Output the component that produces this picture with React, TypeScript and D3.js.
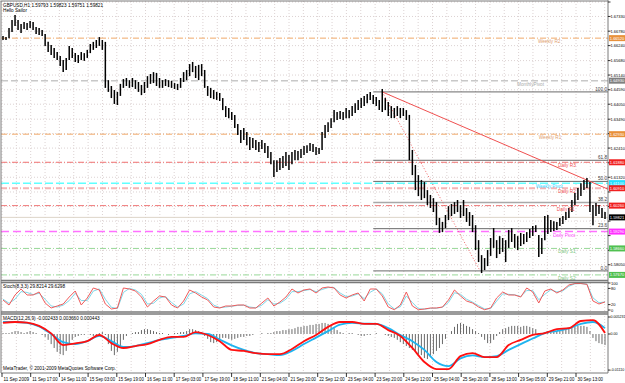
import React from 'react';
import * as d3 from 'd3';

const HIGH = [
  1.6660,1.6656,1.6690,1.6720,1.6738,1.6720,1.6705,1.6712,1.6709,1.6716,
  1.6712,1.6694,1.6690,1.6682,1.6667,1.6638,1.6626,1.6615,1.6600,1.6585,
  1.6570,1.6578,1.6623,1.6615,1.6596,1.6589,1.6600,1.6596,1.6608,1.6630,
  1.6638,1.6645,1.6656,1.6645,1.6638,1.6495,1.6473,1.6458,1.6451,1.6481,
  1.6499,1.6503,1.6495,1.6503,1.6495,1.6488,1.6477,1.6488,1.6510,1.6518,
  1.6525,1.6522,1.6503,1.6495,1.6499,1.6495,1.6492,1.6484,1.6481,1.6503,
  1.6525,1.6533,1.6555,1.6563,1.6548,1.6552,1.6555,1.6533,1.6473,1.6466,
  1.6458,1.6451,1.6447,1.6428,1.6398,1.6391,1.6376,1.6365,1.6331,1.6309,
  1.6316,1.6301,1.6282,1.6279,1.6271,1.6264,1.6271,1.6260,1.6249,1.6226,
  1.6196,1.6196,1.6204,1.6211,1.6226,1.6215,1.6226,1.6234,1.6230,1.6238,
  1.6249,1.6252,1.6260,1.6256,1.6245,1.6241,1.6301,1.6327,1.6338,1.6353,
  1.6383,1.6376,1.6380,1.6376,1.6391,1.6383,1.6398,1.6409,1.6421,1.6428,
  1.6436,1.6443,1.6451,1.6439,1.6432,1.6421,1.6462,1.6428,1.6413,1.6398,
  1.6391,1.6398,1.6391,1.6391,1.6383,1.6365,1.6234,1.6178,1.6140,1.6122,
  1.6114,1.6084,1.6066,1.6054,1.6039,1.5980,1.5965,1.5991,1.6024,1.6032,
  1.6039,1.6047,1.6028,1.6047,1.6017,1.6002,1.5991,1.5953,1.5897,1.5841,
  1.5830,1.5860,1.5905,1.5942,1.5897,1.5912,1.5905,1.5897,1.5935,1.5942,
  1.5920,1.5912,1.5924,1.5920,1.5927,1.5939,1.5950,1.5953,1.5916,1.5905,
  1.5987,1.5991,1.5972,1.5968,1.5965,1.5980,1.5987,1.6002,1.6017,1.6047,
  1.6073,1.6092,1.6110,1.6122,1.6129,1.6114,1.6028,1.6036,1.6028,1.6017,
  1.6002,
];

const LOW = [
  1.6645,1.6645,1.6652,1.6675,1.6697,1.6682,1.6671,1.6686,1.6682,1.6690,
  1.6682,1.6667,1.6664,1.6660,1.6623,1.6600,1.6589,1.6578,1.6570,1.6548,
  1.6525,1.6533,1.6570,1.6578,1.6563,1.6559,1.6570,1.6567,1.6578,1.6596,
  1.6608,1.6615,1.6623,1.6608,1.6466,1.6451,1.6428,1.6406,1.6402,1.6436,
  1.6466,1.6473,1.6466,1.6469,1.6462,1.6451,1.6439,1.6447,1.6466,1.6481,
  1.6484,1.6473,1.6466,1.6466,1.6473,1.6469,1.6466,1.6462,1.6458,1.6466,
  1.6488,1.6495,1.6510,1.6525,1.6503,1.6495,1.6510,1.6466,1.6436,1.6428,
  1.6424,1.6421,1.6417,1.6383,1.6357,1.6353,1.6346,1.6316,1.6290,1.6260,
  1.6271,1.6252,1.6234,1.6241,1.6234,1.6226,1.6238,1.6223,1.6204,1.6181,
  1.6133,1.6152,1.6159,1.6167,1.6174,1.6159,1.6181,1.6196,1.6196,1.6204,
  1.6215,1.6223,1.6230,1.6226,1.6215,1.6219,1.6234,1.6279,1.6301,1.6316,
  1.6338,1.6346,1.6350,1.6346,1.6353,1.6353,1.6361,1.6372,1.6383,1.6391,
  1.6398,1.6409,1.6421,1.6406,1.6398,1.6383,1.6376,1.6383,1.6361,1.6353,
  1.6353,1.6361,1.6353,1.6361,1.6346,1.6196,1.6140,1.6084,1.6062,1.6047,
  1.6054,1.6028,1.6017,1.6002,1.5953,1.5924,1.5927,1.5942,1.5972,1.5987,
  1.5995,1.6002,1.5980,1.5987,1.5965,1.5950,1.5927,1.5860,1.5815,1.5774,
  1.5785,1.5800,1.5838,1.5868,1.5830,1.5845,1.5853,1.5815,1.5868,1.5890,
  1.5868,1.5860,1.5875,1.5882,1.5890,1.5905,1.5912,1.5927,1.5834,1.5845,
  1.5897,1.5920,1.5927,1.5931,1.5935,1.5950,1.5957,1.5972,1.5980,1.6002,
  1.6028,1.6047,1.6062,1.6084,1.6092,1.6002,1.5953,1.5987,1.5995,1.5980,
  1.5976,
];

// Stochastic, one value every 2 bars
const STOCH_MAIN = [
  37,18.5,55.6,77.8,55.6,55.6,66.7,25.9,7.4,14.8,
  22.2,48.1,70.4,18.5,44.4,81.5,74.1,22.2,3.7,7.4,
  81.5,77.8,70.4,48.1,11.1,33.3,51.9,48.1,18.5,7.4,
  33.3,74.1,63,48.1,37,11.1,7.4,14.8,14.8,18.5,
  18.5,7.4,7.4,25.9,44.4,14.8,29.6,48.1,77.8,63,
  74.1,77.8,63,81.5,85.2,81.5,55.6,44.4,55.6,63,
  33.3,77.8,77.8,51.9,11.1,1,18.5,66.7,14.8,1,
  3.7,7.4,7.4,11.1,37,74.1,51.9,33.3,25.9,11.1,
  1,7.4,44.4,66.7,55.6,55.6,48.1,81.5,66.7,25.9,
  70.4,77.8,63,74.1,92.6,98,98,95,33.3,22.2,
  29.8,
];
const STOCH_SIGNAL = [
  40,25,40,68,65,57,62,40,15,11,
  18,35,62,35,35,70,78,40,10,5,
  65,80,74,58,22,25,45,50,28,11,
  22,60,68,55,42,18,9,11,14,17,
  18,11,8,18,38,22,25,40,68,68,
  72,76,68,76,83,83,63,50,52,60,
  42,66,78,60,22,4,12,52,28,5,
  3,6,7,10,28,64,58,40,29,16,
  4,5,33,60,58,56,50,72,72,38,
  58,75,67,71,88,97,98,96,45,27,
  29.6,
];

// MACD lines, one value every 4 bars
const MACD_MAIN = [
  0.0034,0.0037,0.0035,0.0025,0.0002,-0.0034,-0.0029,-0.0022,-0.0003,-0.0028,
  -0.0043,-0.0037,-0.0031,-0.0018,-0.0009,-0.0009,0.0006,-0.0003,-0.0022,-0.0049,
  -0.0052,-0.0059,-0.0062,-0.0062,-0.0046,-0.0022,-0.0003,0.0022,0.0037,0.0037,
  0.0031,0.0031,0.0012,-0.0006,-0.0043,-0.0086,-0.0108,-0.0108,-0.0068,-0.0059,
  -0.0071,-0.0071,-0.0034,-0.0018,-0.0003,0.0003,0.0015,0.0018,0.0040,0.0043,
  0.0003,
];
const MACD_SIGNAL = [
  0.0037,0.0037,0.0034,0.0023,0,-0.0025,-0.0031,-0.0022,-0.0006,-0.0022,
  -0.0040,-0.0037,-0.0028,-0.0018,-0.0012,-0.0006,0.0002,0,-0.0017,-0.0035,
  -0.0049,-0.0059,-0.0062,-0.0065,-0.0052,-0.0031,-0.0011,0.0009,0.0029,0.0034,
  0.0032,0.0031,0.0018,-0.0003,-0.0022,-0.0049,-0.0086,-0.0099,-0.0075,-0.0066,
  -0.0071,-0.0068,-0.0049,-0.0031,-0.0014,0.0003,0.0009,0.0017,0.0031,0.0037,
  0.0018,
];
// histogram, one value per bar
const HIST = [
  0.0003,0.0003,0.0003,
  0.0006,0.0009,0.0009,0.0006,
  0.0003,0.0006,0.0009,0.0006,0.0003,
  0,-0.0003,
  -0.0009,-0.0018,-0.0031,-0.0043,-0.0055,-0.0062,-0.0065,-0.0052,-0.0031,
  -0.0018,-0.0009,-0.0006,-0.0003,-0.0003,0,-0.0003,-0.0006,-0.0003,
  0.0003,0.0006,-0.0003,
  -0.0031,-0.0052,-0.0065,-0.0055,-0.0037,-0.0018,
  -0.0006,0,0.0003,0.0006,
  0.0006,0.0012,0.0015,0.0015,0.0012,0.0009,0.0006,0.0003,
  0.0003,0,-0.0003,0,0.0003,0.0003,0.0006,0.0006,
  0.0009,0.0015,0.0015,0.0012,0.0009,0.0006,
  -0.0006,-0.0015,-0.0025,-0.0028,-0.0025,-0.0018,-0.0012,
  -0.0012,-0.0015,-0.0018,-0.0015,-0.0012,-0.0009,-0.0009,-0.0006,-0.0006,
  -0.0003,0,0,0.0003,0,0.0003,0.0003,
  0.0006,0.0009,0.0009,0.0012,0.0012,0.0015,0.0015,0.0018,0.0022,0.0022,0.0025,0.0025,
  0.0028,0.0028,0.0031,0.0031,0.0034,0.0034,0.0031,0.0025,0.0018,0.0012,0.0006,0.0003,
  0,0.0003,0.0003,0,-0.0003,-0.0006,
  -0.0006,-0.0003,-0.0003,0,0.0003,0,
  0,-0.0003,-0.0006,-0.0009,-0.0012,
  -0.0018,-0.0025,-0.0031,-0.0037,-0.0043,-0.0049,-0.0055,-0.0062,-0.0065,
  -0.0074,-0.0077,-0.0071,-0.0062,-0.0052,-0.0043,-0.0031,
  -0.0015,0,0.0009,
  0.0022,0.0031,0.0034,0.0031,0.0025,0.0022,
  0.0015,0.0009,0.0003,
  -0.0009,-0.0018,-0.0028,-0.0028,-0.0018,-0.0006,
  0.0006,0.0015,0.0018,0.0022,0.0025,0.0025,0.0025,0.0022,0.0025,0.0025,0.0022,0.0018,0.0015,
  0.0003,0,0.0006,0.0009,0.0009,0.0009,
  0.0009,0.0012,0.0015,0.0018,0.0018,0.0022,0.0022,0.0025,0.0025,0.0025,0.0022,0.0009,
  -0.0012,-0.0022,-0.0028,-0.0031,-0.0034,
];

const TIME_LABELS = [
  '11 Sep 2009','11 Sep 17:00','14 Sep 11:00','15 Sep 03:00','15 Sep 19:00','16 Sep 11:00',
  '17 Sep 03:00','17 Sep 19:00','18 Sep 11:00','21 Sep 04:00','21 Sep 20:00','22 Sep 12:00',
  '23 Sep 04:00','23 Sep 20:00','24 Sep 12:00','25 Sep 04:00','25 Sep 20:00','28 Sep 13:00',
  '29 Sep 05:00','29 Sep 21:00','30 Sep 13:00',
];

const PRICE_TICKS = [1.6787,1.6733,1.6678,1.6624,1.6568,1.6514,1.6459,1.6405,1.6349,1.6295,
  1.6241,1.6186,1.6132,1.6077,1.6023,1.5968,1.5914,1.5859,1.5805];
const STOCH_TICKS = [100, 80, 20, 0];
const MACD_TICKS = [0.005231, 0, -0.0111];
const MACD_TICK_LABELS = ['0.005231', '0.00', '-0.01110'];

const LEVEL_NAMES = ['Weekly R2','MonthlyPivot','Weekly R1','Daily R3','Weekly Pivot','Daily R2','Daily R1','Daily Pivot','Daily S1','Daily S2'];
const LEVEL_VALUES = [1.6652,1.6493,1.6293,1.6188,1.6110,1.6091,1.6026,1.5929,1.5866,1.5767];
const LEVEL_LABEL_BAR = [177.7,170.8,178,184.4,177,184.4,184,182.7,184.4,184.4];
const LEVEL_STYLE = [
  { c: '#f0a868', t: '#e0a070', w: 1, d: '6,2,1,2', box: '#e8903a' },
  { c: '#c8c8c8', t: '#a8a8a8', w: 1.5, d: '7,3', box: '#808080' },
  { c: '#f0a868', t: '#e0a070', w: 1, d: '6,2,1,2', box: '#e8903a' },
  { c: '#f07070', t: '#f05050', w: 1, d: '6,2,1,2', box: '#f02020' },
  { c: '#60ffff', t: '#40d8ff', w: 1.5, d: '8,3', box: '#20e0ff' },
  { c: '#f4b4b4', t: '#f05050', w: 2, d: '6,2,1,2', box: '#f02020' },
  { c: '#f07878', t: '#f05050', w: 1, d: '6,2,1,2', box: '#f02020' },
  { c: '#ff70ff', t: '#ff50ff', w: 1.5, d: '8,4', box: '#ff30ff' },
  { c: '#98d898', t: '#80c880', w: 1, d: '6,2,1,2', box: '#50c050' },
  { c: '#98d898', t: '#80c880', w: 1, d: '6,2,1,2', box: '#50c050' },
];

const CURRENT_PRICE = 1.59821;
const FIB_HIGH = 1.6451;
const FIB_LOW = 1.5782;
const FIB_HIGH_BAR = 126;
const FIB_LOW_BAR = 158.5;
const FIB_START_BAR = 123;
const FIB_LEVELS = [100, 61.8, 50, 38.2, 23.6, 0];
const TREND_END = { bar: 201.7, price: 1.6084 };

const FONT = 'Liberation Sans, Arial, sans-serif';
const FS = 4.7;
const FS_AXIS = 4.0;
const FS_SMALL = 3.6;

export default function App() {
  const nBars = HIGH.length;
  const xb = d3.scaleLinear().domain([0, 200]).range([3, 605]);
  const xt = d3.scaleLinear().domain([0, 21]).range([2, 604.7]);
  const yp = d3.scaleLinear().domain([1.5748, 1.67945]).range([280, 0]);
  const ys = d3.scaleLinear().domain([0, 100]).range([310, 283]);
  const ym = d3.scaleLinear().domain([-0.012, 0.00585]).range([373, 315]);
  const RIGHT = 608;

  const stochLine = (arr: number[]) =>
    d3.line<number>().x((_, i) => xb(i * 2)).y((v) => ys(v)).curve(d3.curveLinear)(arr) || '';
  const macdLine = (arr: number[]) =>
    d3.line<number>().x((_, i) => xb(i * 4)).y((v) => ym(v)).curve(d3.curveMonotoneX)(arr) || '';

  const gridX = d3.range(0, 43).map((j) => xt(j / 2));
  const fibY = (lvl: number) => yp(FIB_LOW + (FIB_HIGH - FIB_LOW) * lvl / 100);

  const boxYs = [...LEVEL_VALUES, CURRENT_PRICE].map((v) => yp(v));
  const visibleTicks = PRICE_TICKS.filter((p) => boxYs.every((by) => Math.abs(by - yp(p)) > 5.5) && yp(p) > 4);

  return (
    <svg width={625} height={383} style={{ position: 'absolute', left: 0, top: 0, display: 'block', background: '#ffffff' }}
      fontFamily={FONT}>
      <rect x={0} y={0} width={625} height={383} fill="#ffffff" />
      <defs>
        <clipPath id="mainclip"><rect x={1} y={1} width={RIGHT - 1} height={279} /></clipPath>
        <clipPath id="stclip"><rect x={1} y={282} width={RIGHT - 1} height={30} /></clipPath>
        <clipPath id="mclip"><rect x={1} y={314} width={RIGHT - 1} height={59} /></clipPath>
      </defs>

      {/* grid */}
      <g stroke="#dcd2d2" strokeWidth={1} strokeDasharray="1,2">
        {gridX.map((gx, i) => (
          <line key={'gx' + i} x1={gx} x2={gx} y1={1} y2={373} />
        ))}
        {PRICE_TICKS.map((p, i) => (
          <line key={'gy' + i} x1={1} x2={RIGHT} y1={yp(p)} y2={yp(p)} />
        ))}
      </g>

      {/* pivot levels */}
      <g clipPath="url(#mainclip)">
        {LEVEL_VALUES.map((v, i) => (
          <line key={'lv' + i} x1={1} x2={RIGHT} y1={yp(v)} y2={yp(v)} stroke={LEVEL_STYLE[i].c}
            strokeWidth={LEVEL_STYLE[i].w} strokeDasharray={LEVEL_STYLE[i].d} />
        ))}
        <line x1={1} x2={RIGHT} y1={yp(CURRENT_PRICE)} y2={yp(CURRENT_PRICE)} stroke="#ddd5c8" strokeWidth={1} />
        {/* fibo */}
        {FIB_LEVELS.map((l, i) => (
          <line key={'fb' + i} x1={xb(FIB_START_BAR)} x2={RIGHT} y1={fibY(l)} y2={fibY(l)}
            stroke={l === 38.2 ? '#a8a8a8' : '#6a6a6a'} strokeWidth={l === 38.2 ? 1.6 : 1} />
        ))}
        <line x1={xb(FIB_HIGH_BAR)} y1={yp(FIB_HIGH)} x2={xb(FIB_LOW_BAR)} y2={yp(FIB_LOW)}
          stroke="#f06060" strokeWidth={1} strokeDasharray="1,2" />
        <line x1={xb(FIB_HIGH_BAR)} y1={yp(FIB_HIGH)} x2={xb(TREND_END.bar)} y2={yp(TREND_END.price)}
          stroke="#f05050" strokeWidth={1} />
        {/* bars */}
        <g stroke="#000000" strokeWidth={1.5}>
          {d3.range(nBars).map((i) => (
            <line key={'b' + i} x1={xb(i)} x2={xb(i)} y1={yp(HIGH[i])} y2={yp(LOW[i])} />
          ))}
        </g>
        {/* level texts */}
        {LEVEL_NAMES.map((n, i) => (
          <text key={'lt' + i} x={xb(LEVEL_LABEL_BAR[i])} y={yp(LEVEL_VALUES[i]) + 5} fontSize={FS}
            fill={LEVEL_STYLE[i].t}>{n}</text>
        ))}
        {FIB_LEVELS.map((l, i) => (
          <text key={'ft' + i} x={RIGHT - 1} y={fibY(l) - 1.2} fontSize={FS} fill="#404040" textAnchor="end">
            {l.toFixed(1)}
          </text>
        ))}
      </g>

      {/* stochastic */}
      <g clipPath="url(#stclip)" fill="none">
        <path d={stochLine(STOCH_SIGNAL)} stroke="#7fd8e8" strokeWidth={1} />
        <path d={stochLine(STOCH_MAIN)} stroke="#f05a5a" strokeWidth={1} />
      </g>

      {/* MACD */}
      <g clipPath="url(#mclip)">
        <g stroke="#6a6a6a" strokeWidth={1}>
          {HIST.map((v, i) => (
            <line key={'h' + i} x1={xb(i)} x2={xb(i)} y1={ym(0)} y2={ym(v)} />
          ))}
        </g>
        <path d={macdLine(MACD_SIGNAL)} stroke="#1eb4f0" strokeWidth={1.8} fill="none" />
        <path d={macdLine(MACD_MAIN)} stroke="#ff1010" strokeWidth={1.8} fill="none" />
      </g>

      {/* frames */}
      <g stroke="#7a7a7a" strokeWidth={1} fill="none">
        <line x1={0.5} x2={RIGHT} y1={1} y2={1} />
        <line x1={1} x2={1} y1={1} y2={373} />
        <line x1={RIGHT} x2={RIGHT} y1={0} y2={373} />
        <line x1={1} x2={RIGHT} y1={280.5} y2={280.5} strokeWidth={1.3} />
        <line x1={1} x2={RIGHT} y1={282.5} y2={282.5} strokeWidth={1.3} />
        <line x1={1} x2={RIGHT} y1={312} y2={312} strokeWidth={1.3} />
        <line x1={1} x2={RIGHT} y1={314} y2={314} strokeWidth={1.3} />
        <line x1={1} x2={RIGHT} y1={373} y2={373} />
      </g>

      {/* header texts */}
      <text x={3} y={7} fontSize={FS} fill="#000">GBPUSD,H1  1.59793 1.59823 1.59751 1.59821</text>
      <text x={3} y={12} fontSize={FS} fill="#000">Hello Sailor</text>
      <text x={3} y={288} fontSize={FS} fill="#000">Stoch(8,3,3) 29.8214 29.6298</text>
      <text x={3} y={320} fontSize={FS} fill="#000">MACD(12,26,9) -0.002433 0.003660 0.000443</text>
      <text x={3} y={370} fontSize={FS} fill="#000">MetaTrader, © 2001-2009 MetaQuotes Software Corp.</text>

      {/* right axis */}
      <g fill="#000">
        {PRICE_TICKS.map((p, i) => (
          <line key={'ptl' + i} x1={RIGHT} x2={RIGHT + 2.5} y1={yp(p)} y2={yp(p)} stroke="#000" strokeWidth={0.8} />
        ))}
        {visibleTicks.map((p, i) => (
          <text key={'pt' + i} x={RIGHT + 2.5} y={yp(p) + 1.5} fontSize={FS_AXIS}>{p.toFixed(5)}</text>
        ))}
        {STOCH_TICKS.map((s, i) => (
          <g key={'st' + i}>
            <line x1={RIGHT} x2={RIGHT + 2.5} y1={ys(s)} y2={ys(s)} stroke="#000" strokeWidth={0.8} />
            <text x={RIGHT + 3} y={ys(s) + 1.5} fontSize={FS_AXIS}>{String(s)}</text>
          </g>
        ))}
        {MACD_TICKS.map((m, i) => (
          <g key={'mt' + i}>
            <line x1={RIGHT} x2={RIGHT + 2.5} y1={ym(m)} y2={ym(m)} stroke="#000" strokeWidth={0.8} />
            <text x={RIGHT + 2.5} y={ym(m) + 1.4} fontSize={FS_SMALL}>{MACD_TICK_LABELS[i]}</text>
          </g>
        ))}
      </g>

      {/* colored price boxes */}
      {LEVEL_VALUES.map((v, i) => (
        <g key={'bx' + i}>
          <rect x={RIGHT + 1} y={yp(v) - 3} width={16} height={6} fill={LEVEL_STYLE[i].box} />
          <text x={RIGHT + 1.8} y={yp(v) + 1.5} fontSize={FS_AXIS} fill="#ffffff">{v.toFixed(5)}</text>
        </g>
      ))}
      <rect x={RIGHT + 1} y={yp(CURRENT_PRICE) - 3} width={16} height={6} fill="#000000" />
      <text x={RIGHT + 1.8} y={yp(CURRENT_PRICE) + 1.5} fontSize={FS_AXIS} fill="#ffffff">{CURRENT_PRICE.toFixed(5)}</text>

      {/* time axis */}
      <g fontSize={FS} fill="#000">
        {TIME_LABELS.map((t, i) => (
          <g key={'tl' + i}>
            <line x1={xt(i)} x2={xt(i)} y1={373} y2={377} stroke="#000" strokeWidth={0.8} />
            <text x={xt(i) + 1.5} y={380.5} textLength={25.5} lengthAdjust="spacingAndGlyphs">{t}</text>
          </g>
        ))}
      </g>
    </svg>
  );
}
